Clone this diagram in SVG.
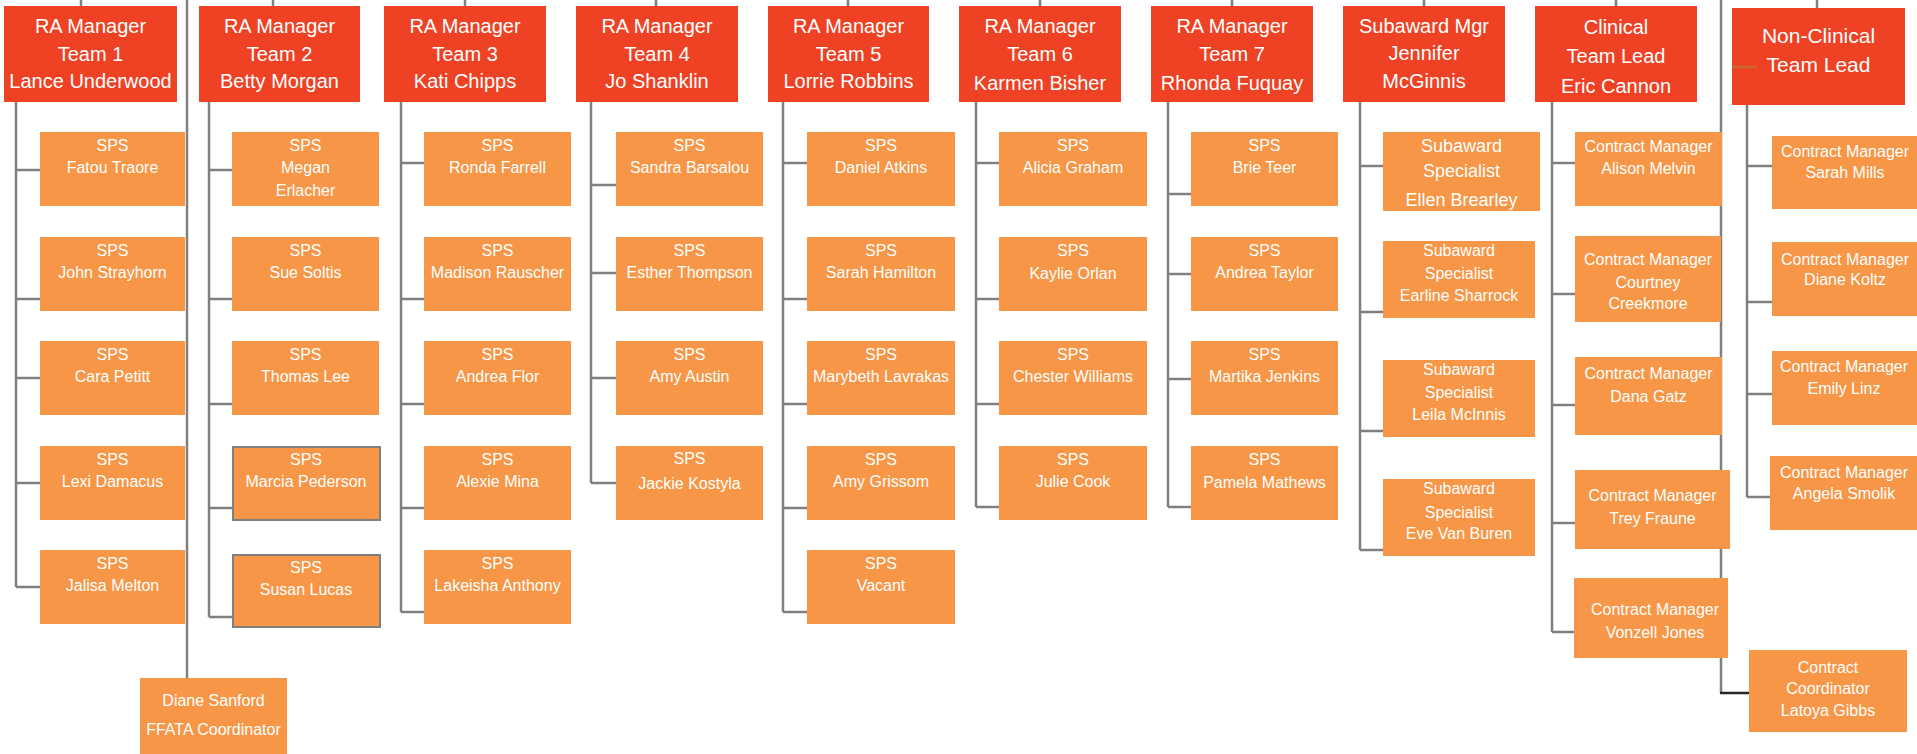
<svg xmlns="http://www.w3.org/2000/svg" width="1917" height="754" viewBox="0 0 1917 754">
<style>
.mgr{fill:#EF4123}
.sps{fill:#F79646}
.bd{stroke:#7F7F7F;stroke-width:2}
text{fill:#FFFFFF;font-family:"Liberation Sans",Arial,sans-serif;text-anchor:middle}
.m{font-size:20px}
.s{font-size:16px}
.l{font-size:18px}
.conn path{fill:none;stroke:#7F7F7F;stroke-width:2.5}
</style>
<rect width="1917" height="754" fill="#FFFFFF"/>
<g class="conn" id="connectors">
<path d="M81 0V6M273 0V6M465 0V6M656 0V6M848 0V6M1040 0V6M1232 0V6M1424 0V6M1616 0V6M1817 0V8"/>
<path d="M187 0V678"/>
<path d="M1721 0V693"/>
<path d="M1720 693H1749" style="stroke:#262626"/>
<path d="M16 102V587M16 170H40M16 299H40M16 378H40M16 483H40M16 587H40"/>
<path d="M209 102V617M209 170H232M209 299H232M209 404H232M209 508H232M209 617H232"/>
<path d="M401 102V612M401 163H424M401 299H424M401 404H424M401 508H424M401 612H424"/>
<path d="M591 102V483M591 185H616M591 273H616M591 378H616M591 483H616"/>
<path d="M783 102V612M783 163H807M783 299H807M783 404H807M783 508H807M783 612H807"/>
<path d="M976 102V507M976 163H999M976 299H999M976 404H999M976 507H999"/>
<path d="M1168 102V507M1168 194H1191M1168 274H1191M1168 379H1191M1168 507H1191"/>
<path d="M1360 102V550M1360 166H1383M1360 312H1383M1360 431H1383M1360 550H1383"/>
<path d="M1552 102V632M1552 163H1575M1552 294H1575M1552 405H1575M1552 523H1575M1552 632H1574"/>
<path d="M1747 105V497M1747 166H1772M1747 302H1772M1747 394H1772M1747 497H1770"/>
</g>

<g id="mgr1"><rect class="mgr" x="4" y="6" width="173" height="96"/><text class="m" x="90.5" y="33">RA Manager</text><text class="m" x="90.5" y="61">Team 1</text><text class="m" x="90.5" y="88">Lance Underwood</text></g>
<g id="mgr2"><rect class="mgr" x="199" y="6" width="161" height="96"/><text class="m" x="279.5" y="33">RA Manager</text><text class="m" x="279.5" y="61">Team 2</text><text class="m" x="279.5" y="88">Betty Morgan</text></g>
<g id="mgr3"><rect class="mgr" x="384" y="6" width="162" height="96"/><text class="m" x="465" y="33">RA Manager</text><text class="m" x="465" y="61">Team 3</text><text class="m" x="465" y="88">Kati Chipps</text></g>
<g id="mgr4"><rect class="mgr" x="576" y="6" width="162" height="96"/><text class="m" x="657" y="33">RA Manager</text><text class="m" x="657" y="61">Team 4</text><text class="m" x="657" y="88">Jo Shanklin</text></g>
<g id="mgr5"><rect class="mgr" x="768" y="6" width="161" height="96"/><text class="m" x="848.5" y="33">RA Manager</text><text class="m" x="848.5" y="61">Team 5</text><text class="m" x="848.5" y="88">Lorrie Robbins</text></g>
<g id="mgr6"><rect class="mgr" x="959" y="6" width="162" height="96"/><text class="m" x="1040" y="33">RA Manager</text><text class="m" x="1040" y="61">Team 6</text><text class="m" x="1040" y="90">Karmen Bisher</text></g>
<g id="mgr7"><rect class="mgr" x="1151" y="6" width="162" height="96"/><text class="m" x="1232" y="33">RA Manager</text><text class="m" x="1232" y="61">Team 7</text><text class="m" x="1232" y="90">Rhonda Fuquay</text></g>
<g id="mgrSub"><rect class="mgr" x="1343" y="6" width="162" height="96"/><text class="m" x="1424" y="33">Subaward Mgr</text><text class="m" x="1424" y="60">Jennifer</text><text class="m" x="1424" y="88">McGinnis</text></g>
<g id="mgrClin"><rect class="mgr" x="1535" y="6" width="162" height="96"/><text class="m" x="1616" y="34">Clinical</text><text class="m" x="1616" y="63">Team Lead</text><text class="m" x="1616" y="93">Eric Cannon</text></g>
<g id="mgrNonClin"><rect class="mgr" x="1732" y="8" width="173" height="97"/><path d="M1732 67H1757" stroke="#C8692E" stroke-width="2.5"/><text class="m" x="1818.5" y="43" style="font-size:21px">Non-Clinical</text><text class="m" x="1818.5" y="72" style="font-size:21px">Team Lead</text></g>

<g id="t1a"><rect class="sps" x="40" y="132" width="145" height="74"/><text class="s" x="112.5" y="151">SPS</text><text class="s" x="112.5" y="173">Fatou Traore</text></g>
<g id="t1b"><rect class="sps" x="40" y="237" width="145" height="74"/><text class="s" x="112.5" y="256">SPS</text><text class="s" x="112.5" y="278">John Strayhorn</text></g>
<g id="t1c"><rect class="sps" x="40" y="341" width="145" height="74"/><text class="s" x="112.5" y="360">SPS</text><text class="s" x="112.5" y="382">Cara Petitt</text></g>
<g id="t1d"><rect class="sps" x="40" y="446" width="145" height="74"/><text class="s" x="112.5" y="465">SPS</text><text class="s" x="112.5" y="487">Lexi Damacus</text></g>
<g id="t1e"><rect class="sps" x="40" y="550" width="145" height="74"/><text class="s" x="112.5" y="569">SPS</text><text class="s" x="112.5" y="591">Jalisa Melton</text></g>

<g id="t2a"><rect class="sps" x="232" y="132" width="147" height="74"/><text class="s" x="305.5" y="151">SPS</text><text class="s" x="305.5" y="173">Megan</text><text class="s" x="305.5" y="196">Erlacher</text></g>
<g id="t2b"><rect class="sps" x="232" y="237" width="147" height="74"/><text class="s" x="305.5" y="256">SPS</text><text class="s" x="305.5" y="278">Sue Soltis</text></g>
<g id="t2c"><rect class="sps" x="232" y="341" width="147" height="74"/><text class="s" x="305.5" y="360">SPS</text><text class="s" x="305.5" y="382">Thomas Lee</text></g>
<g id="t2d"><rect class="sps bd" x="233" y="447" width="147" height="73"/><text class="s" x="306" y="465">SPS</text><text class="s" x="306" y="487">Marcia Pederson</text></g>
<g id="t2e"><rect class="sps bd" x="233" y="555" width="147" height="72"/><text class="s" x="306" y="573">SPS</text><text class="s" x="306" y="595">Susan Lucas</text></g>

<g id="t3a"><rect class="sps" x="424" y="132" width="147" height="74"/><text class="s" x="497.5" y="151">SPS</text><text class="s" x="497.5" y="173">Ronda Farrell</text></g>
<g id="t3b"><rect class="sps" x="424" y="237" width="147" height="74"/><text class="s" x="497.5" y="256">SPS</text><text class="s" x="497.5" y="278">Madison Rauscher</text></g>
<g id="t3c"><rect class="sps" x="424" y="341" width="147" height="74"/><text class="s" x="497.5" y="360">SPS</text><text class="s" x="497.5" y="382">Andrea Flor</text></g>
<g id="t3d"><rect class="sps" x="424" y="446" width="147" height="74"/><text class="s" x="497.5" y="465">SPS</text><text class="s" x="497.5" y="487">Alexie Mina</text></g>
<g id="t3e"><rect class="sps" x="424" y="550" width="147" height="74"/><text class="s" x="497.5" y="569">SPS</text><text class="s" x="497.5" y="591">Lakeisha Anthony</text></g>

<g id="t4a"><rect class="sps" x="616" y="132" width="147" height="74"/><text class="s" x="689.5" y="151">SPS</text><text class="s" x="689.5" y="173">Sandra Barsalou</text></g>
<g id="t4b"><rect class="sps" x="616" y="237" width="147" height="74"/><text class="s" x="689.5" y="256">SPS</text><text class="s" x="689.5" y="278">Esther Thompson</text></g>
<g id="t4c"><rect class="sps" x="616" y="341" width="147" height="74"/><text class="s" x="689.5" y="360">SPS</text><text class="s" x="689.5" y="382">Amy Austin</text></g>
<g id="t4d"><rect class="sps" x="616" y="446" width="147" height="74"/><text class="s" x="689.5" y="464">SPS</text><text class="s" x="689.5" y="489">Jackie  Kostyla</text></g>

<g id="t5a"><rect class="sps" x="807" y="132" width="148" height="74"/><text class="s" x="881" y="151">SPS</text><text class="s" x="881" y="173">Daniel Atkins</text></g>
<g id="t5b"><rect class="sps" x="807" y="237" width="148" height="74"/><text class="s" x="881" y="256">SPS</text><text class="s" x="881" y="278">Sarah Hamilton</text></g>
<g id="t5c"><rect class="sps" x="807" y="341" width="148" height="74"/><text class="s" x="881" y="360">SPS</text><text class="s" x="881" y="382">Marybeth Lavrakas</text></g>
<g id="t5d"><rect class="sps" x="807" y="446" width="148" height="74"/><text class="s" x="881" y="465">SPS</text><text class="s" x="881" y="487">Amy Grissom</text></g>
<g id="t5e"><rect class="sps" x="807" y="550" width="148" height="74"/><text class="s" x="881" y="569">SPS</text><text class="s" x="881" y="591">Vacant</text></g>

<g id="t6a"><rect class="sps" x="999" y="132" width="148" height="74"/><text class="s" x="1073" y="151">SPS</text><text class="s" x="1073" y="173">Alicia Graham</text></g>
<g id="t6b"><rect class="sps" x="999" y="237" width="148" height="74"/><text class="s" x="1073" y="256">SPS</text><text class="s" x="1073" y="279">Kaylie Orlan</text></g>
<g id="t6c"><rect class="sps" x="999" y="341" width="148" height="74"/><text class="s" x="1073" y="360">SPS</text><text class="s" x="1073" y="382">Chester Williams</text></g>
<g id="t6d"><rect class="sps" x="999" y="446" width="148" height="74"/><text class="s" x="1073" y="465">SPS</text><text class="s" x="1073" y="487">Julie Cook</text></g>

<g id="t7a"><rect class="sps" x="1191" y="132" width="147" height="74"/><text class="s" x="1264.5" y="151">SPS</text><text class="s" x="1264.5" y="173">Brie Teer</text></g>
<g id="t7b"><rect class="sps" x="1191" y="237" width="147" height="74"/><text class="s" x="1264.5" y="256">SPS</text><text class="s" x="1264.5" y="278">Andrea Taylor</text></g>
<g id="t7c"><rect class="sps" x="1191" y="341" width="147" height="74"/><text class="s" x="1264.5" y="360">SPS</text><text class="s" x="1264.5" y="382">Martika Jenkins</text></g>
<g id="t7d"><rect class="sps" x="1191" y="446" width="147" height="74"/><text class="s" x="1264.5" y="465">SPS</text><text class="s" x="1264.5" y="488">Pamela Mathews</text></g>

<g id="suba"><rect class="sps" x="1383" y="132" width="157" height="79"/><text class="l" x="1461.5" y="152">Subaward</text><text class="l" x="1461.5" y="177">Specialist</text><text class="l" x="1461.5" y="206">Ellen Brearley</text></g>
<g id="subb"><rect class="sps" x="1383" y="241" width="152" height="77"/><text class="s" x="1459" y="256">Subaward</text><text class="s" x="1459" y="279">Specialist</text><text class="s" x="1459" y="301">Earline Sharrock</text></g>
<g id="subc"><rect class="sps" x="1383" y="360" width="152" height="77"/><text class="s" x="1459" y="375">Subaward</text><text class="s" x="1459" y="398">Specialist</text><text class="s" x="1459" y="420">Leila McInnis</text></g>
<g id="subd"><rect class="sps" x="1383" y="479" width="152" height="77"/><text class="s" x="1459" y="494">Subaward</text><text class="s" x="1459" y="518">Specialist</text><text class="s" x="1459" y="539">Eve Van Buren</text></g>

<g id="clina"><rect class="sps" x="1575" y="132" width="147" height="74"/><text class="s" x="1648.5" y="152">Contract Manager</text><text class="s" x="1648.5" y="174">Alison Melvin</text></g>
<g id="clinb"><rect class="sps" x="1575" y="236" width="146" height="86"/><text class="s" x="1648" y="265">Contract Manager</text><text class="s" x="1648" y="288">Courtney</text><text class="s" x="1648" y="309">Creekmore</text></g>
<g id="clinc"><rect class="sps" x="1575" y="357" width="147" height="78"/><text class="s" x="1648.5" y="379">Contract Manager</text><text class="s" x="1648.5" y="402">Dana Gatz</text></g>
<g id="clind"><rect class="sps" x="1575" y="470" width="155" height="79"/><text class="s" x="1652.5" y="501">Contract Manager</text><text class="s" x="1652.5" y="524">Trey Fraune</text></g>
<g id="cline"><rect class="sps" x="1574" y="578" width="154" height="80"/><text class="s" x="1655" y="615">Contract Manager</text><text class="s" x="1655" y="638">Vonzell Jones</text></g>
<g id="coord"><rect class="sps" x="1749" y="650" width="158" height="82"/><text class="s" x="1828" y="673">Contract</text><text class="s" x="1828" y="694">Coordinator</text><text class="s" x="1828" y="716">Latoya Gibbs</text></g>

<g id="nca"><rect class="sps" x="1772" y="136" width="150" height="73"/><text class="s" x="1845" y="157">Contract Manager</text><text class="s" x="1845" y="178">Sarah Mills</text></g>
<g id="ncb"><rect class="sps" x="1772" y="242" width="150" height="74"/><text class="s" x="1845" y="265">Contract Manager</text><text class="s" x="1845" y="285">Diane Koltz</text></g>
<g id="ncc"><rect class="sps" x="1772" y="351" width="150" height="74"/><text class="s" x="1844" y="372">Contract Manager</text><text class="s" x="1844" y="394">Emily Linz</text></g>
<g id="ncd"><rect class="sps" x="1770" y="456" width="152" height="74"/><text class="s" x="1844" y="478">Contract Manager</text><text class="s" x="1844" y="499">Angela Smolik</text></g>

<g id="ffata"><rect class="sps" x="140" y="678" width="147" height="76"/><text class="s" x="213.5" y="706">Diane Sanford</text><text class="s" x="213.5" y="735">FFATA Coordinator</text></g>
</svg>
